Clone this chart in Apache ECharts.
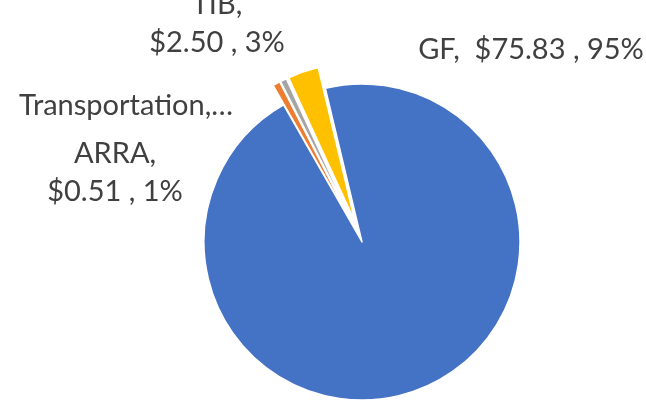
<!DOCTYPE html>
<html>
<head>
<meta charset="utf-8">
<script src="https://cdn.jsdelivr.net/npm/echarts@6/dist/echarts.min.js"></script>
<style>
html,body{margin:0;padding:0;background:#fff;}
#chart{width:646px;height:402px;}
</style>
</head>
<body>
<div id="chart"></div>
<script>
const categories = ['GF', 'Transportation', 'ARRA', 'TIB'];
const values = [75.83, 0.60, 0.51, 2.50];
const colors = ['#4472C4', '#ED7D31', '#A5A5A5', '#FFC000'];
const exploded = [false, true, true, true];

// label anchor positions (layout only)
const labelPos = [
  {x: 531, y: 50},
  {x: 126, y: 106},
  {x: 115, y: 173},
  {x: 217, y: 24}
];

const total = values.reduce((a, b) => a + b, 0);
function labelText(i) {
  const pct = Math.round(values[i] / total * 100);
  const v = '$' + values[i].toFixed(2) + ' , ' + pct + '%';
  if (i === 0) return categories[i] + ',  ' + v;
  if (categories[i] === 'Transportation') return categories[i] + ',…';
  return categories[i] + ',\n' + v;
}

const chart = echarts.init(document.getElementById('chart'), null, {renderer: 'canvas'});
chart.setOption({
  animation: false,
  backgroundColor: '#fff',
  graphic: categories.map((c, i) => ({
    type: 'text',
    x: labelPos[i].x,
    y: labelPos[i].y,
    style: {
      text: labelText(i),
      fill: '#404040',
      font: '29px Lato',
      lineHeight: 38,
      align: 'center',
      verticalAlign: 'middle'
    }
  })),
  series: [{
    type: 'pie',
    center: [362, 242],
    radius: [0, 158],
    startAngle: 103.4,
    clockwise: true,
    selectedMode: 'multiple',
    selectedOffset: 22,
    emphasis: {disabled: true},
    itemStyle: {borderColor: '#fff', borderWidth: 1.5},
    label: {show: false},
    labelLine: {show: false},
    data: categories.map((c, i) => ({
      name: c,
      value: values[i],
      selected: exploded[i],
      itemStyle: {color: colors[i]}
    }))
  }]
});
</script>
</body>
</html>
